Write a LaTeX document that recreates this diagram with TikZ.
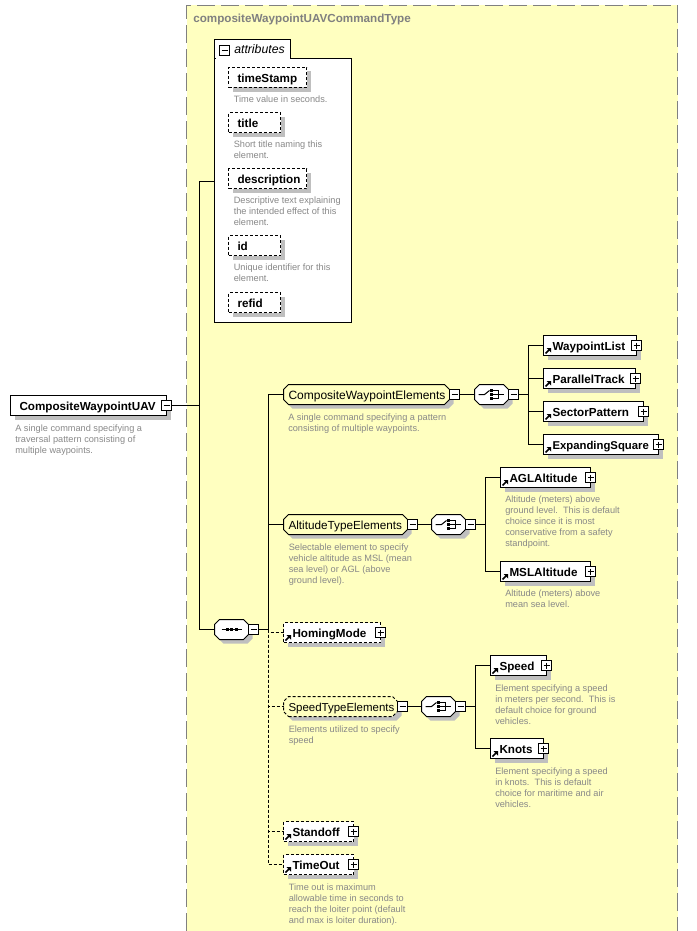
\documentclass[tikz,border=0pt]{standalone}
\usepackage{fontspec}
\setmainfont{Liberation Sans}
\usetikzlibrary{shadows}

\definecolor{panelyellow}{HTML}{FFFFC0}
\definecolor{shadowgray}{HTML}{BFBFBF}
\definecolor{notegray}{HTML}{888888}

\newdimen\octxa \newdimen\octxb \newdimen\octxc \newdimen\octxd
\newdimen\octya \newdimen\octyb \newdimen\octyc \newdimen\octyd
\makeatletter
\pgfdeclareshape{octbox}{
  \inheritsavedanchors[from=rectangle]
  \inheritanchorborder[from=rectangle]
  \inheritanchor[from=rectangle]{center}
  \inheritanchor[from=rectangle]{north}
  \inheritanchor[from=rectangle]{south}
  \inheritanchor[from=rectangle]{east}
  \inheritanchor[from=rectangle]{west}
  \inheritanchor[from=rectangle]{base}
  \backgroundpath{
    \southwest \octxa=\pgf@x \octya=\pgf@y
    \northeast \octxb=\pgf@x \octyb=\pgf@y
    \octxc=\octxa \advance\octxc by 3.75pt
    \octxd=\octxb \advance\octxd by -3.75pt
    \octyc=\octya \advance\octyc by 3.75pt
    \octyd=\octyb \advance\octyd by -3.75pt
    \pgfpathmoveto{\pgfqpoint{\octxc}{\octya}}
    \pgfpathlineto{\pgfqpoint{\octxd}{\octya}}
    \pgfpathlineto{\pgfqpoint{\octxb}{\octyc}}
    \pgfpathlineto{\pgfqpoint{\octxb}{\octyd}}
    \pgfpathlineto{\pgfqpoint{\octxd}{\octyb}}
    \pgfpathlineto{\pgfqpoint{\octxc}{\octyb}}
    \pgfpathlineto{\pgfqpoint{\octxa}{\octyd}}
    \pgfpathlineto{\pgfqpoint{\octxa}{\octyc}}
    \pgfpathclose
  }
}
\makeatother

\tikzset{
  withshadow/.style={copy shadow={shadow xshift=3pt,shadow yshift=-3pt,draw=none,fill=shadowgray,opacity=1}},
  elembox/.style={rectangle,draw=black,fill=white,line width=0.75pt,outer sep=0pt,anchor=west,align=left,
    minimum height=15pt,inner xsep=6.75pt,inner ysep=0pt,text height=8pt,text depth=1.2pt,
    font=\fontsize{8.75pt}{10pt}\selectfont\bfseries,withshadow,text width=(#1-18)*0.75pt},
  optbox/.style={elembox=#1,dash pattern=on 2.25pt off 1.5pt},
  groupbox/.style={octbox,draw=black,fill=panelyellow,line width=0.75pt,outer sep=0pt,anchor=west,align=left,
    minimum height=15pt,inner xsep=3.75pt,inner ysep=0pt,text height=8pt,text depth=1.2pt,
    font=\fontsize{9pt}{10pt}\selectfont,withshadow,text width=(#1-10)*0.75pt},
  compbox/.style={octbox,draw=black,fill=white,line width=0.75pt,outer sep=0pt,anchor=west,
    minimum width=25.5pt,minimum height=15pt,inner sep=0pt,withshadow},
  signbox/.style={rectangle,draw=black,fill=white,line width=0.75pt,outer sep=0pt,minimum size=7.5pt,inner sep=0pt},
  minusbox/.style={signbox,path picture={
    \draw[line width=0.75pt] ([xshift=1.5pt]path picture bounding box.west) -- ([xshift=-1.5pt]path picture bounding box.east);}},
  plusbox/.style={signbox,path picture={
    \draw[line width=0.75pt] ([xshift=1.5pt]path picture bounding box.west) -- ([xshift=-1.5pt]path picture bounding box.east);
    \draw[line width=0.75pt] ([yshift=-1.5pt]path picture bounding box.north) -- ([yshift=1.5pt]path picture bounding box.south);}},
  note/.style={anchor=north west,align=left,inner sep=0pt,yshift=-1.5pt,text=notegray,font=\fontsize{6.9pt}{8.25pt}\selectfont},
  wire/.style={draw=black,line width=0.75pt},
  optwire/.style={wire,dash pattern=on 2.25pt off 1.5pt},
  refarrow/.pic={
    \draw[line width=1.1pt] (2,-2) -- (5.5,-5.5);
    \fill (7.5,-7.5) -- (3,-7.5) -- (7.5,-3) -- cycle;
  },
  seqmark/.pic={
    \draw[line width=0.75pt] (-10,0) -- (10,0);
    \fill (-6,-1.5) rectangle (-3,1.5);
    \fill (-1.5,-1.5) rectangle (1.5,1.5);
    \fill (3,-1.5) rectangle (6,1.5);
  },
  choicemark/.pic={
    \draw[line width=0.75pt] (-13,0) -- (-7,0) -- (-2,-4);
    \draw[line width=0.75pt] (1,-4) -- (7,-4) -- (7,4) -- (1,4) (1,0) -- (12,0);
    \fill (-2,-5.5) rectangle (1,-2.5);
    \fill (-2,-1.5) rectangle (1,1.5);
    \fill (-2,2.5) rectangle (1,5.5);
  },
}

\begin{document}
\begin{tikzpicture}[x=0.75pt,y=-0.75pt]
  \useasboundingbox (0,0) rectangle (696,931);
  % panel
  \fill[panelyellow] (186.5,5.5) rectangle (677.5,931);
  \draw[draw=gray,line width=0.75pt,dash pattern=on 13.5pt off 4.5pt] (186.5,931) -- (186.5,5.5) -- (677.5,5.5) -- (677.5,931);
  \node[anchor=west,inner sep=0pt,text=gray,font=\fontsize{8.75pt}{10pt}\selectfont\bfseries] (paneltitle) at (193,19.5) {compositeWaypointUAVCommandType};

  % root
  \node[elembox=156] (root) at (10.5,405.5) {CompositeWaypointUAV};
  \node[minusbox] (rootminus) at (root.east) {};
  \node[note] (rootnote) at (15,423) {A single command specifying a\\traversal pattern consisting of\\multiple waypoints.};

  % attributes
  \node[rectangle,draw=black,fill=white,line width=0.75pt,anchor=north west,minimum width=102.75pt,minimum height=198pt,inner sep=0pt,outer sep=0pt] (attrbody) at (214.5,58.5) {};
  \node[rectangle,draw=black,fill=white,line width=0.75pt,anchor=north west,minimum width=57pt,minimum height=14.25pt,inner sep=0pt,outer sep=0pt] (attrtab) at (214.5,39.5) {};
  \fill[white] (215.5,57) rectangle (289.5,59.5);
  \node[minusbox] (attrminus) at (224.5,50.5) {};
  \node[anchor=west,inner sep=0pt,font=\fontsize{9.2pt}{10pt}\selectfont\itshape] (attrlabel) at (234,49.5) {attributes};
  \node[optbox=78] (timestamp) at (228.5,77.5) {timeStamp};
  \node[note] (timestampnote) at (233.5,94) {Time value in seconds.};
  \node[optbox=52] (title) at (228.5,122.5) {title};
  \node[note] (titlenote) at (233.5,139) {Short title naming this\\element.};
  \node[optbox=78] (description) at (228.5,178.5) {description};
  \node[note] (descriptionnote) at (233.5,195) {Descriptive text explaining\\the intended effect of this\\element.};
  \node[optbox=52] (id) at (228.5,245.5) {id};
  \node[note] (idnote) at (233.5,262) {Unique identifier for this\\element.};
  \node[optbox=52] (refid) at (228.5,302.5) {refid};

  % sequence
  \node[compbox] (seq) at (214.5,629.5) {};
  \pic at (seq.center) {seqmark};
  \node[minusbox,anchor=west] (seqminus) at (seq.east) {};

  % composite waypoint branch
  \node[groupbox=166] (cwe) at (283.5,394.5) {CompositeWaypointElements};
  \node[minusbox,anchor=west] (cweminus) at (cwe.east) {};
  \node[note] (cwenote) at (288,412) {A single command specifying a pattern\\consisting of multiple waypoints.};
  \node[compbox] (cwechoice) at (474.5,394.5) {};
  \pic at (cwechoice.center) {choicemark};
  \node[minusbox,anchor=west] (cwechoiceminus) at (cwechoice.east) {};
  \node[elembox=93] (waypointlist) at (543.5,345.5) {WaypointList};
  \node[plusbox] (waypointplus) at (waypointlist.east) {};
  \node[elembox=92] (paralleltrack) at (543.5,378.5) {ParallelTrack};
  \node[plusbox] (parallelplus) at (paralleltrack.east) {};
  \node[elembox=100] (sectorpattern) at (543.5,411.5) {SectorPattern};
  \node[plusbox] (sectorplus) at (sectorpattern.east) {};
  \node[elembox=115,font=\fontsize{8.5pt}{10pt}\selectfont\bfseries] (expandingsquare) at (543.5,444.5) {ExpandingSquare};
  \node[plusbox] (expandingplus) at (expandingsquare.east) {};

  % altitude branch
  \node[groupbox=124,font=\fontsize{8.8pt}{10pt}\selectfont] (alt) at (283.5,524.5) {AltitudeTypeElements};
  \node[minusbox,anchor=west] (altminus) at (alt.east) {};
  \node[note] (altnote) at (288.5,542) {Selectable element to specify\\vehicle altitude as MSL (mean\\sea level) or AGL (above\\ground level).};
  \node[compbox] (altchoice) at (431.5,524.5) {};
  \pic at (altchoice.center) {choicemark};
  \node[minusbox,anchor=west] (altchoiceminus) at (altchoice.east) {};
  \node[elembox=90] (agl) at (500.5,477.5) {AGLAltitude};
  \node[plusbox] (aglplus) at (agl.east) {};
  \node[note] (aglnote) at (505,494) {Altitude (meters) above\\ground level.\ \ This is default\\choice since it is most\\conservative from a safety\\standpoint.};
  \node[elembox=90] (msl) at (500.5,571.5) {MSLAltitude};
  \node[plusbox] (mslplus) at (msl.east) {};
  \node[note] (mslnote) at (505,588) {Altitude (meters) above\\mean sea level.};

  % optional members
  \node[optbox=97] (homing) at (283.5,632.5) {HomingMode};
  \node[plusbox] (homingplus) at (homing.east) {};
  \node[groupbox=114,dash pattern=on 2.25pt off 1.5pt,font=\fontsize{8.6pt}{10pt}\selectfont] (speedgroup) at (283.5,706.5) {SpeedTypeElements};
  \node[minusbox,anchor=west] (speedminus) at (speedgroup.east) {};
  \node[note] (speednote) at (288.5,724) {Elements utilized to specify\\speed};
  \node[compbox] (speedchoice) at (421.5,706.5) {};
  \pic at (speedchoice.center) {choicemark};
  \node[minusbox,anchor=west] (speedchoiceminus) at (speedchoice.east) {};
  \node[elembox=56] (speed) at (490.5,665.5) {Speed};
  \node[plusbox] (speedplus) at (speed.east) {};
  \node[note] (speedelemnote) at (495,683) {Element specifying a speed\\in meters per second.\ \ This is\\default choice for ground\\vehicles.};
  \node[elembox=53] (knots) at (490.5,748.5) {Knots};
  \node[plusbox] (knotsplus) at (knots.east) {};
  \node[note] (knotsnote) at (495,766) {Element specifying a speed\\in knots.\ \ This is default\\choice for maritime and air\\vehicles.};
  \node[optbox=70] (standoff) at (283.5,831.5) {Standoff};
  \node[plusbox] (standoffplus) at (standoff.east) {};
  \node[optbox=70] (timeout) at (283.5,864.5) {TimeOut};
  \node[plusbox] (timeoutplus) at (timeout.east) {};
  \node[note] (timeoutnote) at (288.5,882) {Time out is maximum\\allowable time in seconds to\\reach the loiter point (default\\and max is loiter duration).};

  % junctions
  \coordinate (trunk) at (199.5,405.5);
  \coordinate (attrin) at (214.5,181.5);
  \coordinate (seqjoin) at (268.5,629.5);
  \coordinate (cwejoin) at (528.5,394.5);
  \coordinate (altjoin) at (485.5,524.5);
  \coordinate (speedjoin) at (475.5,706.5);

  % connectors
  \draw[wire] (rootminus) -- (trunk);
  \draw[wire] (trunk) |- (attrin);
  \draw[wire] (trunk) |- (seq);
  \draw[wire] (seqminus) -- (seqjoin);
  \draw[wire] (seqjoin) |- (cwe);
  \draw[wire] (seqjoin) |- (alt);
  \draw[optwire] (seqjoin) |- (homing);
  \draw[optwire] (seqjoin) |- (speedgroup);
  \draw[optwire] (seqjoin) |- (standoff);
  \draw[optwire] (seqjoin) |- (timeout);
  \draw[wire] (cweminus) -- (cwechoice);
  \draw[wire] (cwechoiceminus) -- (cwejoin);
  \draw[wire] (cwejoin) |- (waypointlist);
  \draw[wire] (cwejoin) |- (paralleltrack);
  \draw[wire] (cwejoin) |- (sectorpattern);
  \draw[wire] (cwejoin) |- (expandingsquare);
  \draw[wire] (altminus) -- (altchoice);
  \draw[wire] (altchoiceminus) -- (altjoin);
  \draw[wire] (altjoin) |- (agl);
  \draw[wire] (altjoin) |- (msl);
  \draw[wire] (speedminus) -- (speedchoice);
  \draw[wire] (speedchoiceminus) -- (speedjoin);
  \draw[wire] (speedjoin) |- (speed);
  \draw[wire] (speedjoin) |- (knots);

  % reference arrows
  \pic at (waypointlist.south west) {refarrow};
  \pic at (paralleltrack.south west) {refarrow};
  \pic at (sectorpattern.south west) {refarrow};
  \pic at (expandingsquare.south west) {refarrow};
  \pic at (agl.south west) {refarrow};
  \pic at (msl.south west) {refarrow};
  \pic at (homing.south west) {refarrow};
  \pic at (speed.south west) {refarrow};
  \pic at (knots.south west) {refarrow};
  \pic at (standoff.south west) {refarrow};
  \pic at (timeout.south west) {refarrow};
\end{tikzpicture}
\end{document}
